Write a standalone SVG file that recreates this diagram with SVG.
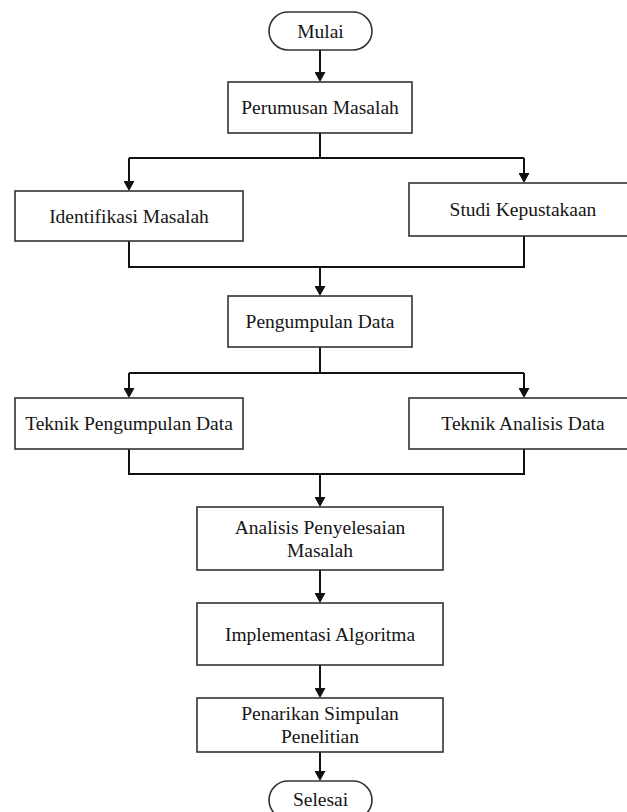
<svg xmlns="http://www.w3.org/2000/svg" width="627" height="812" viewBox="0 0 627 812">
<style>
.box{fill:#fff;stroke:#333;stroke-width:1.6}
.t{font-family:"Liberation Serif","Times New Roman",serif;font-size:19.5px;fill:#151515;text-anchor:middle}
.c{fill:none;stroke:#111;stroke-width:2}
</style>
<defs>
<marker id="ah" markerUnits="userSpaceOnUse" markerWidth="11" markerHeight="11" refX="5" refY="5.5" orient="auto">
<path d="M0,0 L10,5.5 L0,11 z" fill="#111"/>
</marker>
</defs>
<rect width="627" height="812" fill="#fff"/>
<g id="connectors">
<path class="c" d="M320,50 V77" marker-end="url(#ah)"/>
<path class="c" d="M320,133 V158 M129,158 H524"/>
<path class="c" d="M129,158 V186" marker-end="url(#ah)"/>
<path class="c" d="M524,158 V178" marker-end="url(#ah)"/>
<path class="c" d="M129,241 V267 H524 V236"/>
<path class="c" d="M320,267 V291" marker-end="url(#ah)"/>
<path class="c" d="M320,347 V373 M129,373 H524"/>
<path class="c" d="M129,373 V393" marker-end="url(#ah)"/>
<path class="c" d="M524,373 V393" marker-end="url(#ah)"/>
<path class="c" d="M129,449 V474 H524 V449"/>
<path class="c" d="M320,474 V502" marker-end="url(#ah)"/>
<path class="c" d="M320,570 V598" marker-end="url(#ah)"/>
<path class="c" d="M320,665 V693" marker-end="url(#ah)"/>
<path class="c" d="M320,752 V776" marker-end="url(#ah)"/>
</g>
<g id="mulai"><rect class="box" x="269" y="12" width="103" height="38" rx="19"/><text class="t" x="320.5" y="38">Mulai</text></g>
<g id="perumusan"><rect class="box" x="228" y="82" width="184" height="51"/><text class="t" x="320" y="114">Perumusan Masalah</text></g>
<g id="identifikasi"><rect class="box" x="15" y="191" width="228" height="50"/><text class="t" x="129" y="222.5">Identifikasi Masalah</text></g>
<g id="studi"><rect class="box" x="409" y="183" width="232" height="53"/><text class="t" x="523" y="216">Studi Kepustakaan</text></g>
<g id="pengumpulan"><rect class="box" x="228" y="296" width="184" height="51"/><text class="t" x="320" y="328">Pengumpulan Data</text></g>
<g id="teknik-pengumpulan"><rect class="box" x="15" y="398" width="228" height="51"/><text class="t" x="129" y="430">Teknik Pengumpulan Data</text></g>
<g id="teknik-analisis"><rect class="box" x="409" y="398" width="232" height="51"/><text class="t" x="523" y="430">Teknik Analisis Data</text></g>
<g id="analisis"><rect class="box" x="197" y="507" width="246" height="63"/><text class="t" x="320" y="534">Analisis Penyelesaian</text><text class="t" x="320" y="557">Masalah</text></g>
<g id="implementasi"><rect class="box" x="197" y="603" width="246" height="62"/><text class="t" x="320" y="640.5">Implementasi Algoritma</text></g>
<g id="penarikan"><rect class="box" x="197" y="698" width="246" height="54"/><text class="t" x="320" y="720">Penarikan Simpulan</text><text class="t" x="320" y="743">Penelitian</text></g>
<g id="selesai"><rect class="box" x="269" y="781" width="103" height="38" rx="19"/><text class="t" x="320.5" y="806">Selesai</text></g>
</svg>
